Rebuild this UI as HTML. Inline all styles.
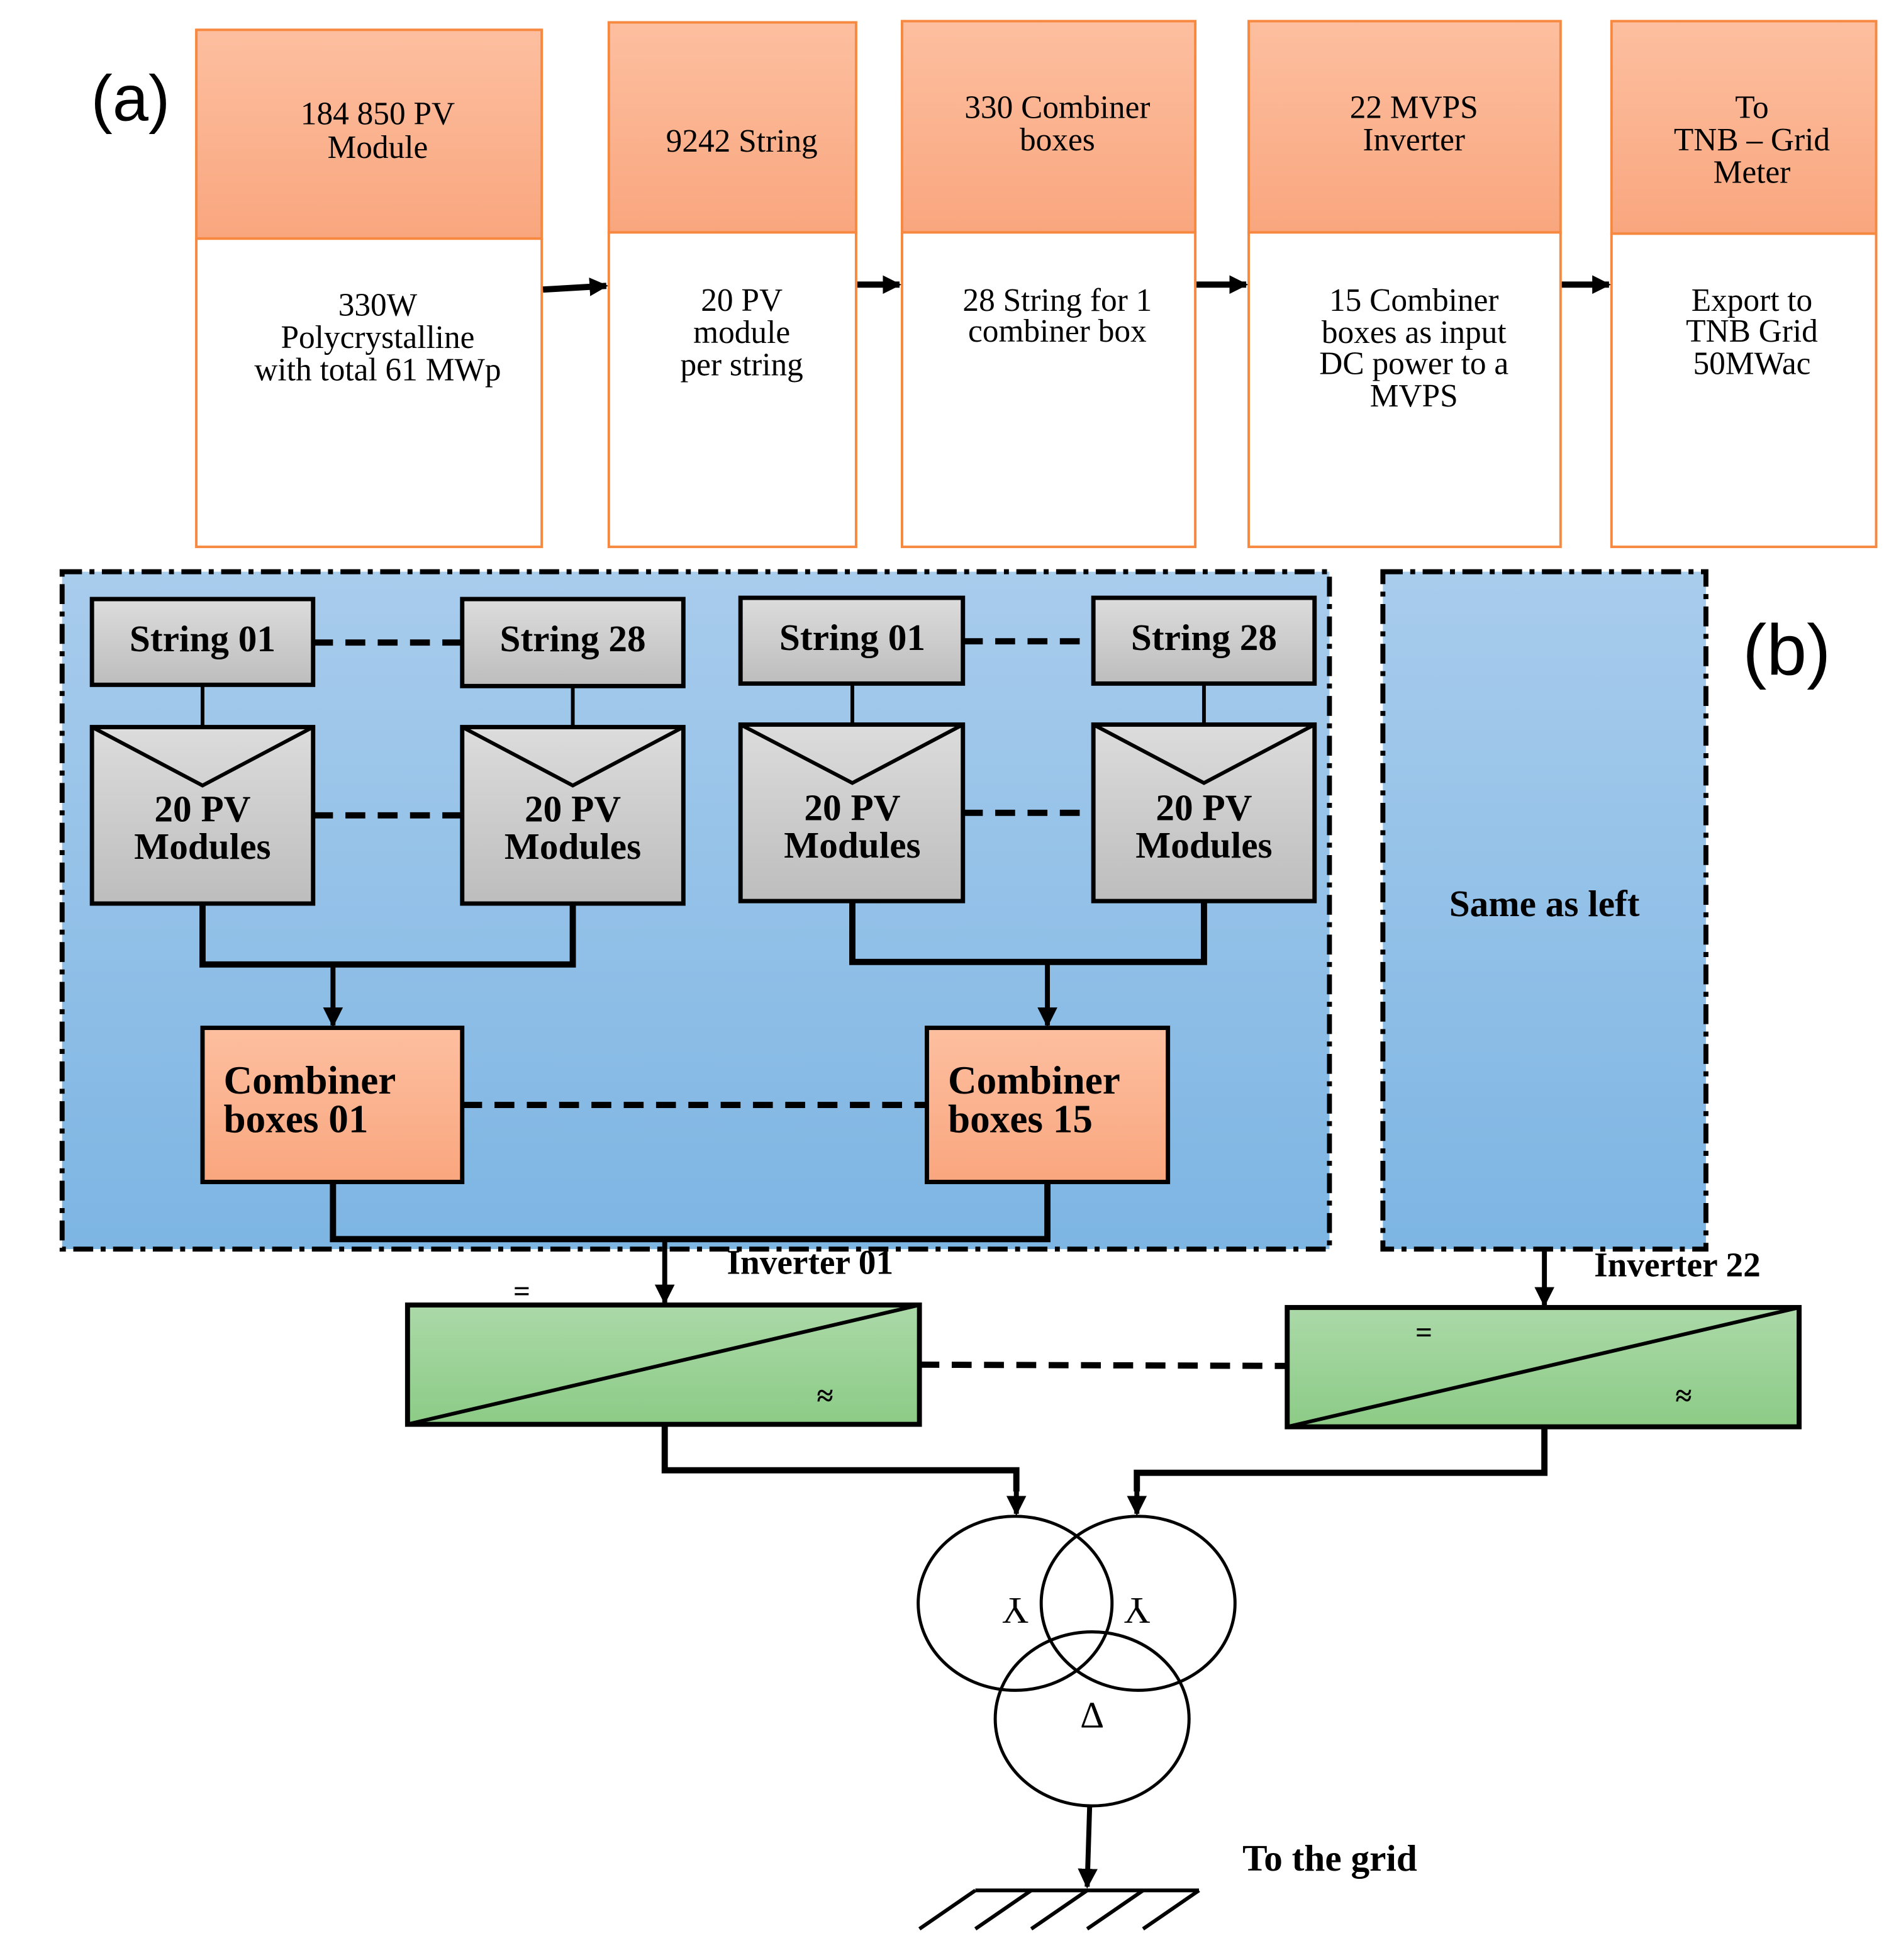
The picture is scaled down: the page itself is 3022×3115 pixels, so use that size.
<!DOCTYPE html>
<html><head><meta charset="utf-8"><style>html,body{margin:0;padding:0;background:#fff}svg{display:block}</style></head>
<body>
<svg width="3022" height="3115" viewBox="0 0 1530 1577" preserveAspectRatio="none" xmlns="http://www.w3.org/2000/svg" font-family="Liberation Serif, serif">
<defs>
<linearGradient id="or" x1="0" y1="0" x2="0" y2="1"><stop offset="0" stop-color="#fdbfa0"/><stop offset="1" stop-color="#f9a67e"/></linearGradient>
<linearGradient id="bl" x1="0" y1="0" x2="0" y2="1"><stop offset="0" stop-color="#a8ccec"/><stop offset="1" stop-color="#7db5e3"/></linearGradient>
<linearGradient id="gr" x1="0" y1="0" x2="0" y2="1"><stop offset="0" stop-color="#dcdcdc"/><stop offset="1" stop-color="#bdbdbd"/></linearGradient>
<linearGradient id="gn" x1="0" y1="0" x2="0" y2="1"><stop offset="0" stop-color="#abd9a8"/><stop offset="1" stop-color="#8ccb86"/></linearGradient>
<marker id="ar" viewBox="0 0 10 10" refX="9" refY="5" markerWidth="4" markerHeight="4" orient="auto"><path d="M0,0 L10,5 L0,10 z" fill="#000"/></marker>
<marker id="ar2" viewBox="0 0 10 10" refX="9" refY="5" markerWidth="3" markerHeight="3" orient="auto"><path d="M0,0 L10,5 L0,10 z" fill="#000"/></marker>
</defs>

<!-- (a) -->
<text x="105" y="97" font-family="Liberation Sans, sans-serif" font-size="52" text-anchor="middle">(a)</text>
<g stroke="#f7883f" stroke-width="2">
<rect x="158" y="24" width="278" height="168" fill="url(#or)"/><rect x="158" y="192" width="278" height="248" fill="#fff"/>
<rect x="490" y="18" width="199" height="169" fill="url(#or)"/><rect x="490" y="187" width="199" height="253" fill="#fff"/>
<rect x="726" y="17" width="236" height="170" fill="url(#or)"/><rect x="726" y="187" width="236" height="253" fill="#fff"/>
<rect x="1005" y="17" width="251" height="170" fill="url(#or)"/><rect x="1005" y="187" width="251" height="253" fill="#fff"/>
<rect x="1297" y="17" width="213" height="171" fill="url(#or)"/><rect x="1297" y="188" width="213" height="252" fill="#fff"/>
</g>
<g font-size="26" text-anchor="middle" fill="#000">
<text x="304" y="100">184 850 PV</text><text x="304" y="127">Module</text>
<text x="597" y="122">9242 String</text>
<text x="851" y="95">330 Combiner</text><text x="851" y="121">boxes</text>
<text x="1138" y="95">22 MVPS</text><text x="1138" y="121">Inverter</text>
<text x="1410" y="95">To</text><text x="1410" y="121">TNB – Grid</text><text x="1410" y="147">Meter</text>
<text x="304" y="254">330W</text><text x="304" y="280">Polycrystalline</text><text x="304" y="306">with total 61 MWp</text>
<text x="597" y="250">20 PV</text><text x="597" y="276">module</text><text x="597" y="302">per string</text>
<text x="851" y="250">28 String for 1</text><text x="851" y="275">combiner box</text>
<text x="1138" y="250">15 Combiner</text><text x="1138" y="276">boxes as input</text><text x="1138" y="301">DC power to a</text><text x="1138" y="327">MVPS</text>
<text x="1410" y="250">Export to</text><text x="1410" y="275">TNB Grid</text><text x="1410" y="301">50MWac</text>
</g>
<g stroke="#000" stroke-width="5" marker-end="url(#ar2)">
<line x1="437" y1="233" x2="488" y2="230"/><line x1="690" y1="229" x2="724" y2="229"/>
<line x1="963" y1="229" x2="1003" y2="229"/><line x1="1257" y1="229" x2="1295" y2="229"/>
</g>

<!-- (b) -->
<rect x="50" y="460" width="1020" height="545" fill="url(#bl)" stroke="#000" stroke-width="4" stroke-dasharray="16 6 4 6"/>
<rect x="1113" y="460" width="260" height="545" fill="url(#bl)" stroke="#000" stroke-width="4" stroke-dasharray="16 6 4 6"/>
<text x="1438" y="543" font-family="Liberation Sans, sans-serif" font-size="58" text-anchor="middle">(b)</text>
<text x="1243" y="737" font-size="30" font-weight="bold" text-anchor="middle">Same as left</text>

<g stroke="#000" stroke-width="3">
<line x1="163" y1="551" x2="163" y2="585"/><line x1="461" y1="552" x2="461" y2="585"/>
<line x1="686" y1="550" x2="686" y2="583"/><line x1="969" y1="550" x2="969" y2="583"/>
</g>
<g stroke="#000" stroke-width="5" stroke-dasharray="16 10" fill="none">
<line x1="252" y1="517" x2="372" y2="517"/><line x1="775" y1="516" x2="880" y2="516"/>
<line x1="252" y1="656" x2="372" y2="656"/><line x1="775" y1="654" x2="880" y2="654"/>
<line x1="372" y1="889" x2="746" y2="889"/>
<line x1="740" y1="1098" x2="1036" y2="1099"/>
</g>
<g stroke="#000" stroke-width="3.5" fill="url(#gr)">
<rect x="74" y="482" width="178" height="69"/><rect x="372" y="482" width="178" height="70"/>
<rect x="596" y="481" width="179" height="69"/><rect x="880" y="481" width="178" height="69"/>
<rect x="74" y="585" width="178" height="142"/><rect x="372" y="585" width="178" height="142"/>
<rect x="596" y="583" width="179" height="142"/><rect x="880" y="583" width="178" height="142"/>
</g>
<g stroke="#000" stroke-width="3" fill="none">
<path d="M74,585 L163,632 L252,585"/><path d="M372,585 L461,632 L550,585"/>
<path d="M596,583 L686,630 L775,583"/><path d="M880,583 L969,630 L1058,583"/>
</g>
<g font-size="30" font-weight="bold" text-anchor="middle">
<text x="163" y="524">String 01</text><text x="461" y="524">String 28</text>
<text x="686" y="523">String 01</text><text x="969" y="523">String 28</text>
<text x="163" y="661">20 PV</text><text x="163" y="691">Modules</text>
<text x="461" y="661">20 PV</text><text x="461" y="691">Modules</text>
<text x="686" y="660">20 PV</text><text x="686" y="690">Modules</text>
<text x="969" y="660">20 PV</text><text x="969" y="690">Modules</text>
</g>
<g stroke="#000" stroke-width="5" fill="none">
<path d="M163,727 V776 H461 V727"/><path d="M686,725 V774 H969 V725"/>
<path d="M268,951 V997 H843 V951"/>
</g>
<g stroke="#000" stroke-width="4" marker-end="url(#ar)">
<line x1="268" y1="776" x2="268" y2="825"/><line x1="843" y1="774" x2="843" y2="825"/>
<line x1="535" y1="997" x2="535" y2="1048"/><line x1="1243" y1="1005" x2="1243" y2="1050"/>
</g>
<g stroke="#000" stroke-width="3.5" fill="url(#or)">
<rect x="163" y="827" width="209" height="124"/><rect x="746" y="827" width="194" height="124"/>
</g>
<g font-size="32" font-weight="bold">
<text x="180" y="880">Combiner</text><text x="180" y="911">boxes 01</text>
<text x="763" y="880">Combiner</text><text x="763" y="911">boxes 15</text>
</g>

<!-- inverters -->
<text x="585" y="1025" font-size="28" font-weight="bold">Inverter 01</text>
<text x="1283" y="1027" font-size="28" font-weight="bold">Inverter 22</text>
<g stroke="#000" stroke-width="4" fill="url(#gn)">
<rect x="328" y="1050" width="412" height="96"/><rect x="1036" y="1052" width="412" height="96"/>
</g>
<g stroke="#000" stroke-width="3"><line x1="328" y1="1146" x2="740" y2="1050"/><line x1="1036" y1="1148" x2="1448" y2="1052"/></g>
<g font-size="24" text-anchor="middle" font-weight="bold">
<text x="420" y="1047">=</text><text x="1146" y="1080">=</text>
<text x="664" y="1131">≈</text><text x="1355" y="1131">≈</text>
</g>
<g stroke="#000" stroke-width="5" fill="none">
<path d="M535,1146 V1183 H818 V1200"/><path d="M1243,1148 V1185 H915 V1200"/>
</g>
<g stroke="#000" stroke-width="4" marker-end="url(#ar)">
<line x1="818" y1="1195" x2="818" y2="1218"/><line x1="915" y1="1195" x2="915" y2="1218"/>
<line x1="877" y1="1453" x2="875" y2="1518"/>
</g>
<g stroke="#000" stroke-width="2.5" fill="none">
<ellipse cx="817" cy="1290" rx="78" ry="70"/><ellipse cx="916" cy="1290" rx="78" ry="70"/><ellipse cx="879" cy="1383" rx="78" ry="70"/>
</g>
<g font-size="30" text-anchor="middle">
<text x="817" y="1306" transform="rotate(180 817 1296)">Y</text>
<text x="915" y="1306" transform="rotate(180 915 1296)">Y</text>
<text x="879" y="1390">Δ</text>
</g>
<g stroke="#000" stroke-width="3" fill="none">
<line x1="785" y1="1521" x2="965" y2="1521"/>
<line x1="785" y1="1521" x2="740" y2="1552"/><line x1="830" y1="1521" x2="785" y2="1552"/>
<line x1="875" y1="1521" x2="830" y2="1552"/><line x1="920" y1="1521" x2="875" y2="1552"/>
<line x1="965" y1="1521" x2="920" y2="1552"/>
</g>
<text x="1000" y="1505" font-size="30" font-weight="bold">To the grid</text>
</svg>
</body></html>
